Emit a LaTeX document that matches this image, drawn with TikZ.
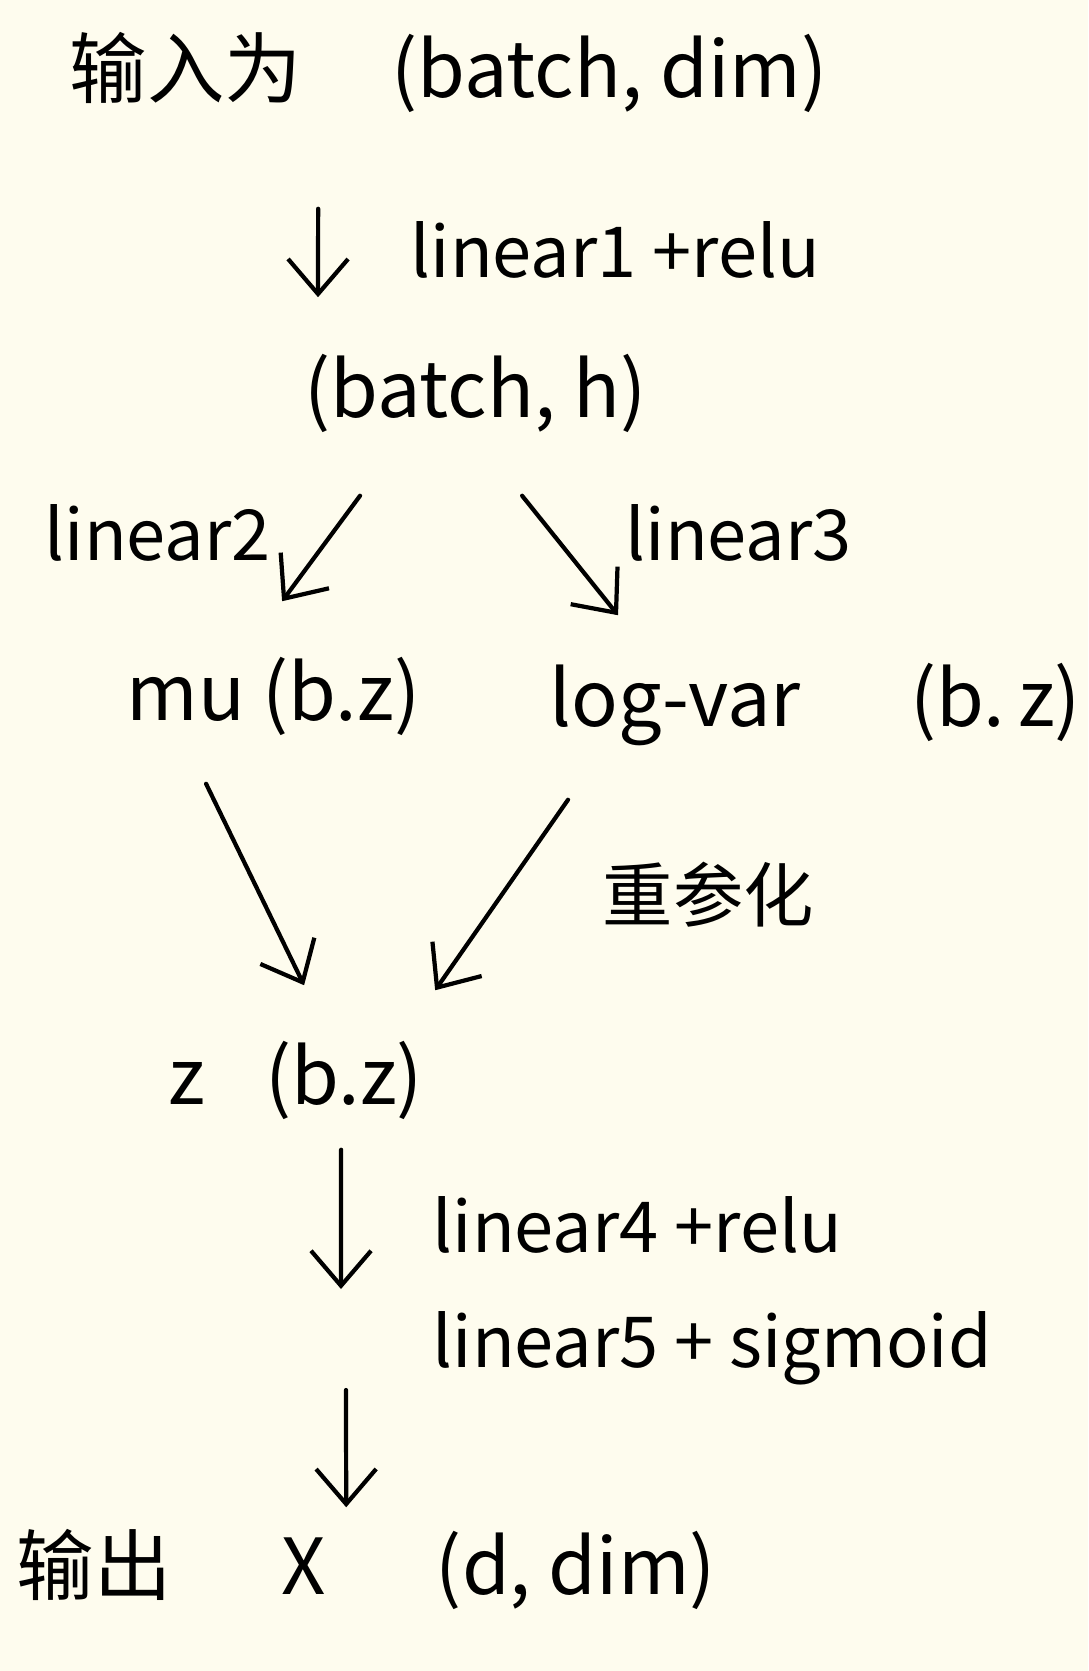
\documentclass[tikz,border=0pt]{standalone}
\usepackage{fontspec}
\setmainfont{Noto Sans CJK SC}
\usepackage{tikz}
\usetikzlibrary{arrows.meta, positioning}
\usepackage{xcolor}
\definecolor{paperCream}{HTML}{FEFCEE}

\begin{document}
\begin{tikzpicture}[
    x=0.01cm, y=-0.01cm,
    term/.style={anchor=west, inner sep=0pt, text height=0.5cm, text depth=0.15cm, font=\fontsize{22}{26}\selectfont},
    oplabel/.style={anchor=west, inner sep=0pt, font=\fontsize{20}{24}\selectfont},
    arrow/.style={-{Straight Barb[length=3.5mm, width=6mm]}, line width=1.2pt, line cap=round}
]
    % Paper
    \fill[paperCream] (0,0) rectangle (1088,1671);
    \useasboundingbox (0,0) rectangle (1088,1671);

    % Tensors
    \node[term] (in) at (69,80) {输入为\hspace{0.9cm}(batch, dim)};
    \node[term] (h) at (304,400) {(batch, h)};
    \node[term] (mu) at (126,703) {mu (b.z)};
    \node[term] (logvar) at (549,709) {log-var\hspace{1.1cm}(b.\,z)};
    \node[term] (z) at (168,1087) {z\hspace{0.6cm}(b.z)};
    \node[term] (out) at (16,1577) {输出\hspace{1.1cm}X\hspace{1.1cm}(d, dim)};

    % Layers
    \node[oplabel] (lin1) at (410,250) {linear1 +relu};
    \node[oplabel] (lin2) at (44,533) {linear2};
    \node[oplabel] (lin3) at (625,533) {linear3};
    \node[oplabel] (reparam) at (602,895) {重参化};
    \node[oplabel] (lin4) at (432,1225) {linear4 +relu};
    \node[oplabel] (lin5) at (432,1348) {linear5 + sigmoid};

    % Free ends of the decoder arrows
    \coordinate (zdown) at (341,1289);
    \coordinate (outup) at (346,1390);

    % Arrows
    \draw[arrow] ([xshift=2.49cm, yshift=-0.955cm]in.south west) -- ([xshift=0.14cm, yshift=0.695cm]h.north west);
    \draw[arrow] ([xshift=0.56cm, yshift=-0.625cm]h.south west) -- ([xshift=1.56cm, yshift=0.685cm]mu.north west);
    \draw[arrow] ([xshift=2.18cm, yshift=-0.625cm]h.south west) -- ([xshift=0.69cm, yshift=0.605cm]logvar.north west);
    \draw[arrow] ([xshift=0.8cm, yshift=-0.475cm]mu.south west) -- ([xshift=1.36cm, yshift=0.685cm]z.north west);
    \draw[arrow] ([xshift=0.19cm, yshift=-0.575cm]logvar.south west) -- ([xshift=2.67cm, yshift=0.635cm]z.north west);
    \draw[arrow] ([xshift=1.73cm, yshift=-0.295cm]z.south west) -- (zdown);
    \draw[arrow] (outup) -- ([xshift=3.3cm, yshift=0.365cm]out.north west);
\end{tikzpicture}
\end{document}
